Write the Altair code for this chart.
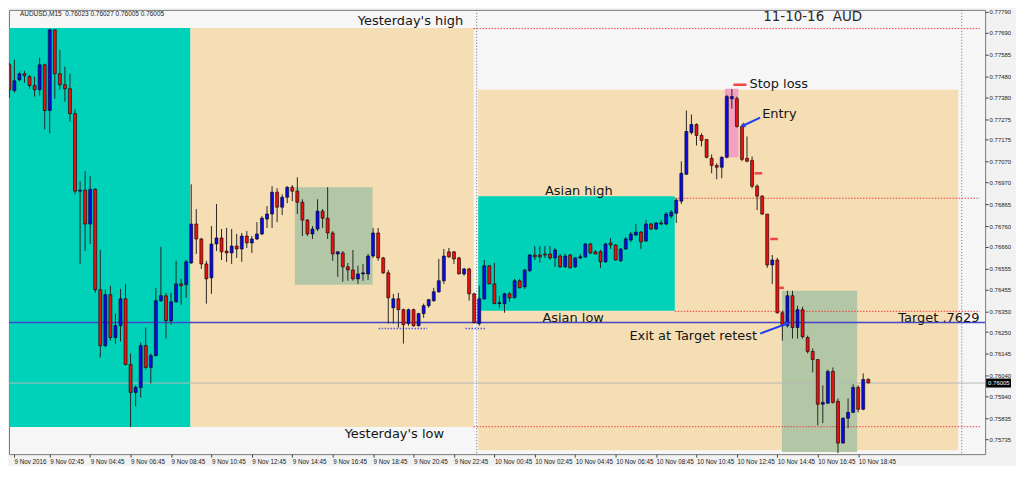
import altair as alt
import pandas as pd

# ---------------- AUDUSD M15 candles (bar 0 = 9 Nov 00:45) ----------------
opens = [
    0.77536, 0.77412, 0.77464, 0.77493, 0.77479, 0.77436, 0.77416, 0.77536, 0.77316, 0.77704,
    0.77493, 0.77440, 0.77421, 0.77301, 0.76928, 0.76933, 0.76770, 0.76937, 0.76454, 0.76185,
    0.76430, 0.76224, 0.76281, 0.76410, 0.76094, 0.75960, 0.75984, 0.76185, 0.76080, 0.76137,
    0.76401, 0.76425, 0.76305, 0.76396, 0.76482, 0.76478, 0.76583, 0.76770, 0.76698, 0.76578,
    0.76511, 0.76674, 0.76703, 0.76640, 0.76631, 0.76664, 0.76650, 0.76712, 0.76679, 0.76698,
    0.76722, 0.76794, 0.76818, 0.76923, 0.76851, 0.76899, 0.76947, 0.76928, 0.76875, 0.76789,
    0.76722, 0.76746, 0.76832, 0.76798, 0.76727, 0.76626, 0.76631, 0.76564, 0.76549, 0.76506,
    0.76530, 0.76530, 0.76616, 0.76727, 0.76607, 0.76535, 0.76367, 0.76410, 0.76358, 0.76291,
    0.76358, 0.76281, 0.76339, 0.76377, 0.76401, 0.76444, 0.76497, 0.76636, 0.76636, 0.76607,
    0.76530, 0.76554, 0.76434, 0.76291, 0.76410, 0.76569, 0.76482, 0.76387, 0.76387, 0.76434,
    0.76415, 0.76497, 0.76468, 0.76545, 0.76621, 0.76621, 0.76626, 0.76626, 0.76607, 0.76616,
    0.76564, 0.76621, 0.76564, 0.76607, 0.76612, 0.76674, 0.76636, 0.76636, 0.76588, 0.76679,
    0.76669, 0.76593, 0.76650, 0.76693, 0.76717, 0.76731, 0.76688, 0.76770, 0.76746, 0.76775,
    0.76770, 0.76808, 0.76822, 0.76880, 0.77009, 0.77210, 0.77249, 0.77196, 0.77177, 0.77086,
    0.77052, 0.77043, 0.77091, 0.77373, 0.77373, 0.77239, 0.77086, 0.77076, 0.76952, 0.76904,
    0.76818, 0.76573, 0.76597, 0.76343, 0.76281, 0.76425, 0.76272, 0.76358, 0.76224, 0.76157,
    0.76118, 0.75903, 0.75908, 0.76061, 0.75917, 0.75716, 0.75836, 0.75864, 0.75984, 0.75879,
    0.76023,
]
highs = [
    0.77546, 0.77560, 0.77503, 0.77507, 0.77488, 0.77479, 0.77570, 0.77541, 0.77709, 0.77706,
    0.77608, 0.77527, 0.77493, 0.77321, 0.76976, 0.77024, 0.77000, 0.76942, 0.76645, 0.76454,
    0.76473, 0.76339, 0.76458, 0.76482, 0.76147, 0.75994, 0.76200, 0.76272, 0.76147, 0.76463,
    0.76660, 0.76439, 0.76439, 0.76593, 0.76506, 0.76597, 0.76961, 0.76842, 0.76703, 0.76593,
    0.76760, 0.76866, 0.76746, 0.76751, 0.76746, 0.76722, 0.76727, 0.76736, 0.76712, 0.76779,
    0.76808, 0.76856, 0.76952, 0.76942, 0.76913, 0.76952, 0.76957, 0.76995, 0.76889, 0.76794,
    0.76760, 0.76889, 0.76842, 0.76947, 0.76736, 0.76640, 0.76640, 0.76583, 0.76645, 0.76569,
    0.76578, 0.76626, 0.76751, 0.76751, 0.76612, 0.76549, 0.76434, 0.76439, 0.76363, 0.76363,
    0.76363, 0.76343, 0.76387, 0.76410, 0.76463, 0.76602, 0.76650, 0.76655, 0.76640, 0.76612,
    0.76559, 0.76559, 0.76439, 0.76473, 0.76597, 0.76573, 0.76583, 0.76425, 0.76439, 0.76444,
    0.76506, 0.76506, 0.76554, 0.76626, 0.76664, 0.76664, 0.76664, 0.76664, 0.76655, 0.76626,
    0.76626, 0.76626, 0.76612, 0.76626, 0.76679, 0.76679, 0.76645, 0.76645, 0.76679, 0.76703,
    0.76674, 0.76655, 0.76707, 0.76731, 0.76770, 0.76736, 0.76789, 0.76775, 0.76779, 0.76789,
    0.76827, 0.76837, 0.76894, 0.77072, 0.77316, 0.77297, 0.77254, 0.77206, 0.77177, 0.77105,
    0.77062, 0.77095, 0.77392, 0.77419, 0.77383, 0.77249, 0.77191, 0.77095, 0.76961, 0.76909,
    0.76818, 0.76621, 0.76607, 0.76353, 0.76449, 0.76449, 0.76377, 0.76372, 0.76233, 0.76171,
    0.76118, 0.75994, 0.76070, 0.76080, 0.75931, 0.75840, 0.75931, 0.75999, 0.75994, 0.76051,
    0.76027,
]
lows = [
    0.77378, 0.77402, 0.77455, 0.77450, 0.77421, 0.77383, 0.77388, 0.77225, 0.77206, 0.77373,
    0.77416, 0.77359, 0.77263, 0.76913, 0.76578, 0.76640, 0.76674, 0.76439, 0.76128, 0.76176,
    0.76209, 0.76195, 0.76205, 0.76090, 0.75793, 0.75893, 0.75936, 0.76070, 0.76003, 0.76133,
    0.76396, 0.76219, 0.76286, 0.76391, 0.76382, 0.76415, 0.76578, 0.76626, 0.76554, 0.76387,
    0.76434, 0.76640, 0.76597, 0.76588, 0.76578, 0.76607, 0.76588, 0.76655, 0.76631, 0.76693,
    0.76717, 0.76751, 0.76751, 0.76779, 0.76813, 0.76870, 0.76880, 0.76818, 0.76712, 0.76712,
    0.76698, 0.76736, 0.76751, 0.76698, 0.76593, 0.76516, 0.76492, 0.76497, 0.76497, 0.76482,
    0.76497, 0.76501, 0.76607, 0.76593, 0.76530, 0.76291, 0.76291, 0.76272, 0.76195, 0.76281,
    0.76276, 0.76276, 0.76319, 0.76367, 0.76396, 0.76439, 0.76482, 0.76607, 0.76578, 0.76528,
    0.76521, 0.76401, 0.76291, 0.76281, 0.76406, 0.76480, 0.76385, 0.76367, 0.76343, 0.76396,
    0.76413, 0.76461, 0.76458, 0.76540, 0.76597, 0.76583, 0.76607, 0.76597, 0.76564, 0.76559,
    0.76559, 0.76557, 0.76559, 0.76602, 0.76607, 0.76626, 0.76624, 0.76559, 0.76583, 0.76650,
    0.76593, 0.76588, 0.76645, 0.76684, 0.76712, 0.76650, 0.76684, 0.76741, 0.76741, 0.76765,
    0.76765, 0.76798, 0.76775, 0.76866, 0.77007, 0.77201, 0.77148, 0.77143, 0.77086, 0.77014,
    0.76985, 0.76990, 0.77086, 0.77325, 0.77234, 0.77072, 0.77067, 0.76942, 0.76837, 0.76813,
    0.76559, 0.76482, 0.76339, 0.76209, 0.76272, 0.76219, 0.76219, 0.76219, 0.76147, 0.76056,
    0.75802, 0.75812, 0.75906, 0.75906, 0.75668, 0.75714, 0.75788, 0.75860, 0.75864, 0.75874,
    0.76005,
]
closes = [
    0.77416, 0.77459, 0.77493, 0.77483, 0.77436, 0.77416, 0.77536, 0.77316, 0.77704, 0.77493,
    0.77440, 0.77421, 0.77301, 0.76928, 0.76933, 0.76770, 0.76937, 0.76454, 0.76185, 0.76430,
    0.76224, 0.76281, 0.76410, 0.76094, 0.75960, 0.75984, 0.76185, 0.76080, 0.76137, 0.76401,
    0.76425, 0.76305, 0.76396, 0.76482, 0.76473, 0.76588, 0.76770, 0.76698, 0.76578, 0.76506,
    0.76674, 0.76703, 0.76636, 0.76631, 0.76664, 0.76650, 0.76712, 0.76679, 0.76698, 0.76722,
    0.76798, 0.76818, 0.76923, 0.76851, 0.76899, 0.76947, 0.76928, 0.76875, 0.76789, 0.76722,
    0.76746, 0.76832, 0.76798, 0.76727, 0.76626, 0.76636, 0.76564, 0.76549, 0.76506, 0.76530,
    0.76535, 0.76616, 0.76727, 0.76607, 0.76535, 0.76415, 0.76410, 0.76358, 0.76286, 0.76358,
    0.76281, 0.76339, 0.76377, 0.76406, 0.76444, 0.76497, 0.76616, 0.76612, 0.76602, 0.76530,
    0.76554, 0.76434, 0.76296, 0.76410, 0.76569, 0.76482, 0.76387, 0.76391, 0.76434, 0.76415,
    0.76497, 0.76463, 0.76549, 0.76621, 0.76612, 0.76612, 0.76621, 0.76607, 0.76645, 0.76564,
    0.76616, 0.76559, 0.76607, 0.76612, 0.76674, 0.76631, 0.76626, 0.76588, 0.76674, 0.76669,
    0.76597, 0.76650, 0.76698, 0.76722, 0.76731, 0.76684, 0.76770, 0.76746, 0.76775, 0.76770,
    0.76818, 0.76827, 0.76885, 0.77014, 0.77215, 0.77249, 0.77196, 0.77172, 0.77091, 0.77052,
    0.77043, 0.77091, 0.77383, 0.77383, 0.77239, 0.77081, 0.77072, 0.76952, 0.76904, 0.76818,
    0.76573, 0.76597, 0.76343, 0.76281, 0.76425, 0.76272, 0.76358, 0.76228, 0.76157, 0.76118,
    0.75903, 0.75912, 0.76061, 0.75912, 0.75716, 0.75836, 0.75864, 0.75984, 0.75879, 0.76022,
    0.76005,
]

# ---------------- axes ----------------
first_label = "9 Nov 2016"
tick_bars = [8, 16, 24, 32, 40, 48, 56, 64, 72, 80, 88, 96, 104, 112, 120, 128, 136, 144, 152, 160, 168]
tick_labels = ["9 Nov 02:45", "9 Nov 04:45", "9 Nov 06:45", "9 Nov 08:45", "9 Nov 10:45",
               "9 Nov 12:45", "9 Nov 14:45", "9 Nov 16:45", "9 Nov 18:45", "9 Nov 20:45",
               "9 Nov 22:45", "10 Nov 00:45", "10 Nov 02:45", "10 Nov 04:45", "10 Nov 06:45",
               "10 Nov 08:45", "10 Nov 10:45", "10 Nov 12:45", "10 Nov 14:45", "10 Nov 16:45",
               "10 Nov 18:45"]
price_ticks = [0.77790, 0.77690, 0.77585, 0.77480, 0.77380, 0.77275, 0.77175, 0.77070,
               0.76970, 0.76865, 0.76760, 0.76660, 0.76555, 0.76455, 0.76350, 0.76250,
               0.76145, 0.76040, 0.75940, 0.75835, 0.75735]

# ---------------- session / trade boxes ----------------
zone_kind = ["session", "session", "asian", "asian", "range", "range", "stop"]
zone_start = [35.8, 92.8, 0.0, 92.8, 56.5, 152.9, 141.6]
zone_end = [91.9, 187.8, 35.8, 131.7, 71.9, 167.8, 144.3]
zone_top = [0.77713, 0.77416, 0.77713, 0.76904, 0.76947, 0.76449, 0.77421]
zone_bottom = [0.75793, 0.75682, 0.75793, 0.76353, 0.76478, 0.75673, 0.77091]

day_separators = [92.5, 188.5]
target_level = 0.76296
bid_level = 0.76005

red_level_start = [91.9, 91.9, 131.7, 131.7]
red_level_end = [192.1, 192.1, 192.1, 192.1]
red_level_price = [0.77710, 0.75795, 0.76894, 0.76350]

blue_dot_start = [73.1, 90.3]
blue_dot_end = [82.7, 94.4]
blue_dot_price = [0.76267, 0.76267]

stop_mark_start = [143.3, 147.5, 150.6, 152.3]
stop_mark_end = [145.9, 149.0, 152.1, 153.3]
stop_mark_price = [0.77440, 0.77014, 0.76698, 0.76463]

# arrows: tail -> head
entry_arrow = {"x0": [148.6], "p0": [0.77282], "x1": [145.3], "p1": [0.77244]}
exit_arrow = {"x0": [148.6], "p0": [0.76243], "x1": [153.9], "p1": [0.76291]}

center_text = ["Yesterday's high", "Yesterday's low", "Asian high", "Asian low"]
center_bar = [79.4, 76.2, 112.7, 111.6]
center_price = [0.77747, 0.75759, 0.76928, 0.76320]
left_text = ["Stop loss", "Entry"]
left_bar = [146.5, 149.0]
left_price = [0.77445, 0.77301]
right_text = ["Exit at Target retest", "Target .7629"]
right_bar = [148.0, 192.0]
right_price = [0.76233, 0.76320]

title_text = "11-10-16\u00a0\u00a0AUD"
title_bar = 149.2
header_text = "AUDUSD,M15\u00a0\u00a00.76023 0.76027 0.76005 0.76005"
header_bar = 2.1

# ---------------- chart ----------------
W, H = 980, 446
X_MIN = 0.92
X_MAX = 192.14
P_MAX = 0.77800
P_MIN = 0.75663

xs = alt.Scale(domain=[X_MIN, X_MAX], nice=False, zero=False)
ys = alt.Scale(domain=[P_MIN, P_MAX], nice=False, zero=False)

all_vals = [X_MIN] + tick_bars
all_labels = [first_label] + tick_labels
label_expr = ("[" + ",".join("'" + s + "'" for s in all_labels) + "][indexof(["
              + ",".join(str(v) for v in all_vals) + "], datum.value)]")

x_axis = alt.Axis(values=all_vals, labelExpr=label_expr, title=None, grid=False, domain=False,
                  tickSize=3, tickColor="#444444", labelFontSize=6.3, labelFont="Liberation Sans",
                  labelColor="#222222", labelAlign="left", labelBaseline="top", labelPadding=1,
                  labelFlush=False, labelOverlap=False)
y_axis = alt.Axis(orient="right", values=price_ticks, format=".5f", title=None, grid=False,
                  domain=False, tickSize=3, tickColor="#444444", labelFontSize=6,
                  labelFont="Liberation Sans", labelColor="#222222", labelPadding=1,
                  labelOverlap=False, labelFlush=False)


def X(f):
    return alt.X(f, scale=xs, axis=x_axis)


def Y(f):
    return alt.Y(f, scale=ys, axis=y_axis)


candles = pd.DataFrame({"bar": list(range(len(opens))), "open": opens, "high": highs,
                        "low": lows, "close": closes})

zones = pd.DataFrame({"start": zone_start, "end": zone_end, "top": zone_top,
                      "bottom": zone_bottom, "kind": zone_kind})

zone_layers = []
for kind, col in [("session", "#f5deb3"), ("asian", "#00d2ba"), ("range", "#b3c7a6"),
                  ("stop", "#f4a0c0")]:
    zone_layers.append(
        alt.Chart(zones).transform_filter(alt.datum.kind == kind).mark_rect(
            clip=True, color=col).encode(
            x=X("start:Q"), x2="end:Q", y=Y("top:Q"), y2="bottom:Q"))

sep_layer = alt.Chart(pd.DataFrame({"bar": day_separators})).mark_rule(
    color="#6e6e6e", strokeDash=[1, 2], strokeWidth=1).encode(x=X("bar:Q"))

bid_layer = alt.Chart(pd.DataFrame({"price": [bid_level]})).mark_rule(
    color="#b8b8b8", strokeWidth=1).encode(y=Y("price:Q"))
target_layer = alt.Chart(pd.DataFrame({"price": [target_level]})).mark_rule(
    color="#4646c8", strokeWidth=1.5).encode(y=Y("price:Q"))

red_layer = alt.Chart(pd.DataFrame({"s": red_level_start, "e": red_level_end,
                                    "p": red_level_price})).mark_rule(
    color="#f03c3c", strokeDash=[1.5, 1.5], strokeWidth=1).encode(x=X("s:Q"), x2="e:Q", y=Y("p:Q"))

blue_dot_layer = alt.Chart(pd.DataFrame({"s": blue_dot_start, "e": blue_dot_end,
                                         "p": blue_dot_price})).mark_rule(
    color="#5a5ae6", strokeDash=[1.5, 1.5], strokeWidth=1.5).encode(x=X("s:Q"), x2="e:Q", y=Y("p:Q"))

wick_layer = alt.Chart(candles).mark_rule(color="#262626", strokeWidth=1, clip=True).encode(
    x=X("bar:Q"), y=Y("low:Q"), y2="high:Q")
up_layer = alt.Chart(candles).transform_filter("datum.close >= datum.open").mark_bar(
    size=3, color="#0b0bea", stroke="#000000", strokeWidth=0.6, clip=True).encode(
    x=X("bar:Q"), y=Y("open:Q"), y2="close:Q")
down_layer = alt.Chart(candles).transform_filter("datum.close < datum.open").mark_bar(
    size=3, color="#ea1010", stroke="#000000", strokeWidth=0.6, clip=True).encode(
    x=X("bar:Q"), y=Y("open:Q"), y2="close:Q")

stop_layer = alt.Chart(pd.DataFrame({"s": stop_mark_start, "e": stop_mark_end,
                                     "p": stop_mark_price})).mark_rule(
    color="#f04545", strokeWidth=2.5).encode(x=X("s:Q"), x2="e:Q", y=Y("p:Q"))

arrow_color = "#1f3ff0"
entry_df = pd.DataFrame(entry_arrow)
exit_df = pd.DataFrame(exit_arrow)
entry_line = alt.Chart(entry_df).mark_rule(color=arrow_color, strokeWidth=2).encode(
    x=X("x0:Q"), x2="x1:Q", y=Y("p0:Q"), y2="p1:Q")
entry_head = alt.Chart(entry_df).mark_point(shape="triangle", filled=True, size=30, opacity=1,
                                            color=arrow_color, angle=245).encode(
    x=X("x1:Q"), y=Y("p1:Q"))
exit_line = alt.Chart(exit_df).mark_rule(color=arrow_color, strokeWidth=2).encode(
    x=X("x0:Q"), x2="x1:Q", y=Y("p0:Q"), y2="p1:Q")
exit_head = alt.Chart(exit_df).mark_point(shape="triangle", filled=True, size=30, opacity=1,
                                          color=arrow_color, angle=70).encode(
    x=X("x1:Q"), y=Y("p1:Q"))

FONT = "DejaVu Sans"
TXT = "#151515"
center_layer = alt.Chart(pd.DataFrame({"t": center_text, "b": center_bar, "p": center_price})).mark_text(
    align="center", baseline="middle", font=FONT, fontSize=13, color=TXT).encode(
    x=X("b:Q"), y=Y("p:Q"), text="t:N")
left_layer = alt.Chart(pd.DataFrame({"t": left_text, "b": left_bar, "p": left_price})).mark_text(
    align="left", baseline="middle", font=FONT, fontSize=13, color=TXT).encode(
    x=X("b:Q"), y=Y("p:Q"), text="t:N")
right_layer = alt.Chart(pd.DataFrame({"t": right_text, "b": right_bar, "p": right_price})).mark_text(
    align="right", baseline="middle", font=FONT, fontSize=13, color=TXT).encode(
    x=X("b:Q"), y=Y("p:Q"), text="t:N")
title_layer = alt.Chart(pd.DataFrame({"t": [title_text], "b": [title_bar], "p": [P_MAX]})).mark_text(
    align="left", baseline="top", font=FONT, fontSize=13.5, color="#2a2a2a").encode(
    x=X("b:Q"), y=Y("p:Q"), text="t:N")
header_layer = alt.Chart(pd.DataFrame({"t": [header_text], "b": [header_bar], "p": [P_MAX]})).mark_text(
    align="left", baseline="top", font="Liberation Sans", fontSize=6.5, color="#222222", dy=1).encode(
    x=X("b:Q"), y=Y("p:Q"), text="t:N")

tag_df = pd.DataFrame({"p": [bid_level]})
tag_box = alt.Chart(tag_df).mark_rule(color="#000000", strokeWidth=9).encode(
    x=alt.value(W + 1), x2=alt.value(W + 26), y=Y("p:Q"))
tag_text = alt.Chart(tag_df).mark_text(align="left", baseline="middle", font="Liberation Sans",
                                       fontSize=6, color="#ffffff").encode(
    x=alt.value(W + 3), y=Y("p:Q"), text=alt.Text("p:Q", format=".5f"))

chart = alt.layer(
    *zone_layers, sep_layer, bid_layer, target_layer, red_layer, blue_dot_layer,
    wick_layer, up_layer, down_layer, stop_layer, entry_line, entry_head, exit_line, exit_head,
    center_layer, left_layer, right_layer, title_layer, header_layer, tag_box, tag_text,
).properties(
    width=W, height=H, padding=0, background="#f2f2f2",
).configure_view(stroke="#7a7a7a", strokeWidth=1, fill="#f6f6f6")

chart.save("out.html", embed_options={"renderer": "svg", "actions": False})
